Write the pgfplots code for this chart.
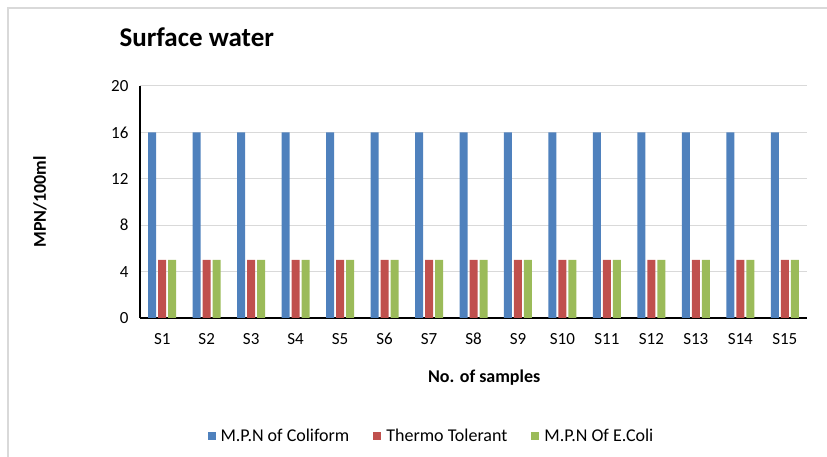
\documentclass[border=0pt]{standalone}
\usepackage{fontspec}
\setmainfont{Carlito}
\usepackage{pgfplots}
\pgfplotsset{compat=1.18}
\definecolor{cblue}{HTML}{4F81BD}
\definecolor{cred}{HTML}{C0504D}
\definecolor{cgreen}{HTML}{9BBB59}
\definecolor{cgrid}{HTML}{D9D9D9}
\begin{document}
\begin{tikzpicture}[x=1pt,y=1pt]
\path[use as bounding box] (0,0) rectangle (827,457);
\draw[cgrid,line width=1.5pt] (8,0) -- (8,449) -- (827,449);
\node[anchor=base west,font=\fontsize{27}{32}\selectfont\bfseries] at (116,410) {Surface water};
\begin{axis}[
    at={(140pt,139pt)}, anchor=south west,
    scale only axis, width=667pt, height=232pt,
    ybar=2pt, bar width=8pt,
    xmin=0.5, xmax=15.5,
    ymin=0, ymax=20,
    ytick={0,4,8,12,16,20},
    xtick={1,...,15},
    xticklabels={S1,S2,S3,S4,S5,S6,S7,S8,S9,S10,S11,S12,S13,S14,S15},
    axis x line*=bottom, axis y line*=left,
    axis line style={black, line width=1.2pt},
    x axis line style={-}, y axis line style={-},
    major tick length=0pt,
    ymajorgrids, grid style={cgrid, line width=1pt},
    tick label style={font=\fontsize{17}{20}\selectfont},
    /pgf/number format/assume math mode=true,
    xticklabel style={yshift=-11pt, text height=12pt, text depth=3pt},
    yticklabel style={xshift=-8pt},
    xlabel={No. of samples}, ylabel={MPN/100ml},
    label style={font=\fontsize{18}{21}\selectfont\bfseries},
    xlabel style={at={(axis description cs:0.516,-0.259)}, anchor=center},
    ylabel style={at={(axis description cs:-0.15,0.5)}, anchor=center},
    legend columns=3,
    legend style={at={(axis description cs:0.437,-0.51)}, anchor=center, draw=none,
        font=\fontsize{18}{21}\selectfont, /tikz/every even column/.append style={column sep=22pt}},
    legend image code/.code={\fill[#1,draw=none] (0pt,-4pt) rectangle (8pt,4pt); \path (11pt,0pt);},
]
\addplot[fill=cblue, draw=none] coordinates {(1,16)(2,16)(3,16)(4,16)(5,16)(6,16)(7,16)(8,16)(9,16)(10,16)(11,16)(12,16)(13,16)(14,16)(15,16)};
\addplot[fill=cred, draw=none] coordinates {(1,5)(2,5)(3,5)(4,5)(5,5)(6,5)(7,5)(8,5)(9,5)(10,5)(11,5)(12,5)(13,5)(14,5)(15,5)};
\addplot[fill=cgreen, draw=none] coordinates {(1,5)(2,5)(3,5)(4,5)(5,5)(6,5)(7,5)(8,5)(9,5)(10,5)(11,5)(12,5)(13,5)(14,5)(15,5)};
\legend{M.P.N of Coliform, Thermo Tolerant, M.P.N Of E.Coli}
\end{axis}
\end{tikzpicture}
\end{document}
